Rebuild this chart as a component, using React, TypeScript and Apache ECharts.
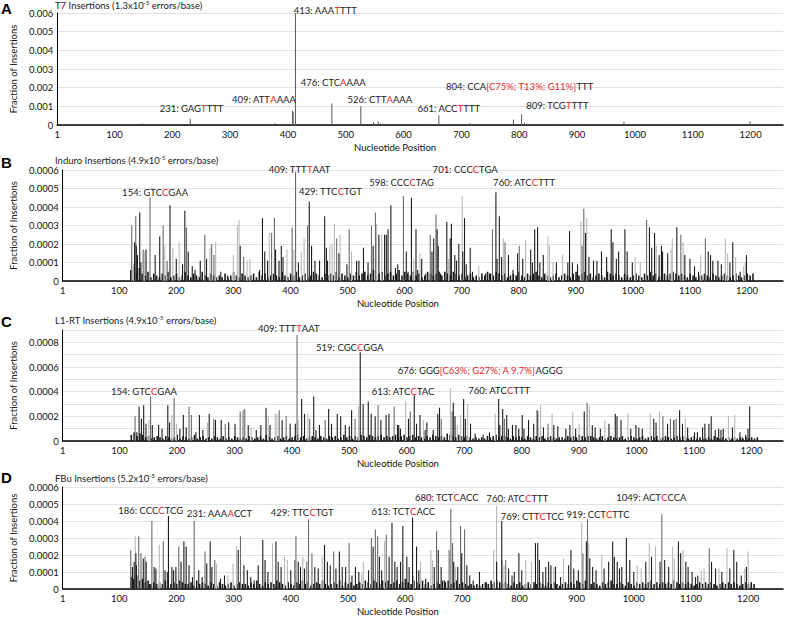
import { useEffect, useRef } from "react";
import * as echarts from "echarts";

// values below are in units of 1e-5 (fraction of insertions)
const UNIT = 1e-5;
const xTicks = [1, 100, 200, 300, 400, 500, 600, 700, 800, 900, 1000, 1100, 1200];
const baseStart = 120;
const baseStep = 5;

// A: T7
const t7Spikes = [[148,8],[162,3],[231,34],[360,3],[377,10],[392,4],[408,75],[409,70],[413,600],[476,115],[526,100],[548,15],[556,20],[560,10],[640,4],[650,4],[661,52],[668,5],[710,5],[715,10],[790,30],[804,58],[809,12],[858,4],[898,5],[981,18],[1060,3],[1140,3],[1199,20]];

// B: Induro
const induroDark = [[127,21],[130,19],[132,14],[136,37],[138,10],[147,17],[163,14],[171,24],[189,41],[200,12],[211,9],[215,38],[221,16],[228,8],[233,6],[242,11],[253,12],[278,5],[290,3],[312,19],[346,6],[351,34],[355,16],[360,11],[374,17],[380,11],[384,19],[387,13],[414,10],[433,43],[437,19],[443,11],[451,11],[460,35],[463,18],[465,11],[485,15],[499,9],[516,11],[520,11],[528,18],[536,10],[545,19],[555,25],[565,25],[568,25],[571,28],[576,41],[584,7],[588,9],[603,16],[606,5],[612,45],[620,28],[623,6],[630,12],[637,4],[648,16],[651,23],[657,28],[659,19],[663,4],[674,32],[680,23],[682,31],[688,14],[691,11],[695,20],[702,16],[705,34],[708,9],[715,18],[719,5],[742,4],[749,4],[760,48],[762,12],[766,35],[770,13],[782,14],[790,6],[798,15],[807,12],[821,17],[824,10],[828,28],[833,29],[837,10],[843,14],[866,10],[886,10],[889,27],[894,10],[903,9],[917,26],[923,13],[931,11],[937,11],[945,16],[954,13],[962,28],[965,21],[971,12],[975,16],[986,28],[990,16],[999,10],[1029,29],[1033,18],[1038,26],[1046,14],[1050,19],[1052,16],[1061,15],[1077,29],[1091,14],[1100,12],[1108,8],[1115,5],[1132,16],[1136,14],[1140,11],[1149,11],[1155,9],[1170,10],[1175,21],[1188,5],[1199,14]];
const induroGray = [[122,30],[129,35],[142,17],[154,45],[177,30],[184,11],[218,29],[250,25],[262,20],[266,14],[318,13],[367,26],[372,34],[403,29],[409,59],[430,30],[481,23],[503,28],[542,30],[549,37],[598,46],[645,25],[655,36],[754,28],[776,21],[801,19],[911,19],[914,39],[1024,33],[1084,25],[1127,23]];
const induroLight = [[125,9],[144,16],[180,19],[194,18],[205,21],[259,18],[269,21],[300,14],[307,30],[310,33],[324,11],[329,12],[363,26],[394,17],[406,17],[419,16],[424,23],[469,19],[473,20],[477,31],[487,25],[507,16],[551,31],[560,25],[616,12],[627,15],[677,12],[701,46],[730,8],[773,23],[812,22],[851,24],[854,19],[860,10],[877,14],[909,32],[919,34],[1004,13],[1013,10],[1041,19],[1067,17],[1069,23],[1088,21],[1119,14],[1162,23],[1166,15],[1180,13],[1194,8],[1197,10]];
const induroBase = [6,8,5,7,4,3,5,2,4,3, 2,4,3,5,2,3,4,2,3,5, 3,2,4,3,2,5,3,2,4,3, 2,3,2,4,2,3,5,3,2,4, 3,2,3,4,2,5,3,4,2,3, 4,3,2,5,3,2,4,3,5,2, 3,4,2,3,5,4,3,2,4,3, 4,3,5,2,4,3,2,4,3,5, 3,4,5,3,4,6,3,4,5,3, 4,5,3,4,6,3,5,4,3,5, 3,4,2,3,5,4,3,4,5,3, 5,4,3,5,4,3,4,2,3,4, 2,3,2,4,3,5,4,3,5,4, 3,4,2,3,4,3,5,3,2,4, 3,4,5,3,2,4,3,2,3,4, 2,3,4,3,2,4,5,3,4,5, 3,4,2,3,4,3,2,5,4,3, 4,3,2,4,3,2,3,4,3,2, 4,3,5,3,4,2,3,4,3,4, 5,4,3,4,3,2,4,3,2,3, 3,4,3,2,4,3,2,3,4,3, 2,3,4,3,2,3,4,3,4];

// C: L1-RT
const l1Dark = [[130,7],[134,28],[138,18],[142,29],[146,14],[157,13],[168,13],[174,10],[184,29],[187,15],[205,10],[211,21],[216,11],[233,7],[239,21],[245,9],[256,22],[267,17],[277,17],[290,15],[301,14],[324,13],[338,9],[346,13],[355,27],[362,13],[383,17],[397,14],[406,14],[417,34],[422,22],[438,36],[442,9],[448,13],[464,26],[469,14],[479,22],[485,20],[493,13],[500,12],[504,25],[519,72],[524,30],[533,32],[538,22],[545,20],[555,17],[564,21],[569,22],[584,13],[586,13],[589,10],[603,18],[613,37],[617,14],[623,21],[632,9],[635,15],[646,9],[654,22],[657,27],[681,31],[684,20],[699,34],[702,18],[711,14],[719,6],[733,5],[744,7],[760,34],[762,13],[767,26],[774,21],[777,10],[784,13],[790,13],[795,10],[801,21],[804,10],[812,17],[821,14],[827,25],[838,11],[856,13],[863,12],[877,10],[884,13],[894,10],[909,24],[923,13],[928,11],[937,10],[952,14],[963,22],[966,20],[973,17],[990,10],[999,13],[1004,11],[1010,10],[1030,18],[1034,15],[1054,14],[1065,17],[1075,25],[1080,14],[1089,11],[1101,7],[1106,7],[1115,11],[1119,14],[1126,14],[1130,20],[1137,9],[1143,10],[1147,9],[1151,10],[1167,11],[1180,7],[1184,3],[1190,5],[1194,10],[1197,28]];
const l1Gray = [[127,20],[154,36],[195,35],[221,28],[225,21],[264,18],[284,14],[310,24],[315,25],[318,26],[378,25],[390,20],[409,86],[431,18],[458,17],[510,18],[550,29],[578,28],[606,24],[660,18],[679,24],[770,18],[846,14],[914,31],[1046,20],[1059,18],[1069,18]];
const l1Light = [[151,17],[191,21],[199,14],[253,15],[329,11],[359,20],[371,22],[374,22],[411,17],[428,22],[516,28],[598,32],[629,17],[676,43],[688,13],[694,21],[706,30],[754,22],[829,24],[833,29],[853,22],[889,24],[900,14],[918,28],[945,17],[985,22],[1024,22],[1040,24],[1085,19],[1160,20],[1171,21]];
const l1Base = [5,7,4,6,5,3,4,2,3,4, 3,2,4,3,2,3,5,2,4,3, 2,3,5,2,3,4,2,3,2,4, 3,2,4,2,3,2,4,3,2,3, 2,4,3,2,3,4,2,5,3,2, 3,4,2,3,4,2,3,4,5,3, 4,2,3,4,3,2,4,3,2,4, 3,4,2,3,5,3,4,2,4,3, 5,4,3,5,4,3,4,5,3,4, 3,4,5,3,4,5,3,4,5,3, 4,3,2,4,3,5,4,3,4,3, 6,5,4,3,5,4,3,4,3,2, 3,2,3,2,4,3,4,5,3,4, 4,3,2,4,3,4,3,2,4,3, 2,4,3,4,2,3,4,3,2,3, 3,2,4,3,4,3,5,4,3,4, 4,3,2,3,4,2,3,4,3,2, 3,4,2,3,4,3,2,3,4,2, 3,4,3,4,2,3,4,3,2,3, 4,3,4,3,2,3,4,2,3,2, 2,3,2,4,3,2,3,2,3,2, 3,2,3,2,3,2,3,2,3];

// D: FBu
const fbuDark = [[123,13],[126,16],[129,21],[130,14],[142,18],[147,16],[153,3],[161,13],[164,12],[180,11],[184,10],[186,43],[192,13],[195,11],[199,13],[208,16],[213,28],[217,25],[222,14],[228,7],[239,11],[245,7],[253,15],[259,28],[262,13],[277,6],[284,8],[308,23],[318,14],[324,11],[330,7],[336,5],[343,14],[351,29],[355,17],[360,10],[374,28],[378,16],[383,13],[400,11],[413,16],[417,13],[424,12],[442,13],[448,12],[459,26],[464,16],[469,14],[479,12],[485,22],[490,13],[496,13],[507,8],[513,13],[519,10],[536,11],[544,25],[555,19],[559,11],[572,19],[577,39],[582,16],[586,13],[592,16],[596,37],[603,19],[607,13],[613,42],[620,25],[624,11],[636,6],[651,13],[658,23],[663,13],[669,5],[685,16],[692,13],[699,21],[708,14],[713,8],[719,5],[730,10],[742,4],[752,3],[760,16],[769,40],[781,12],[787,8],[791,10],[799,21],[804,11],[828,27],[832,27],[835,17],[841,10],[846,13],[851,16],[855,14],[863,13],[872,7],[886,14],[890,23],[895,12],[903,11],[917,28],[923,18],[928,13],[934,11],[948,12],[956,16],[963,28],[966,19],[971,16],[975,12],[979,13],[987,30],[993,17],[1000,10],[1021,16],[1031,19],[1046,16],[1054,17],[1061,13],[1078,28],[1082,21],[1091,16],[1095,13],[1102,10],[1108,7],[1112,8],[1136,16],[1143,12],[1154,10],[1168,12],[1175,23],[1180,16],[1188,8],[1197,13]];
const fbuGray = [[120,23],[134,31],[138,21],[145,19],[157,40],[177,28],[204,25],[231,40],[250,22],[267,17],[312,31],[407,17],[409,31],[428,16],[431,41],[437,21],[475,22],[502,27],[541,30],[548,35],[552,31],[567,32],[655,34],[677,23],[680,47],[683,27],[697,37],[704,35],[776,17],[911,21],[919,41],[1049,44],[1132,24]];
const fbuLight = [[128,31],[170,26],[270,15],[290,8],[299,15],[305,25],[368,27],[389,19],[394,17],[421,19],[455,19],[524,9],[527,16],[564,28],[615,8],[627,16],[645,23],[648,17],[688,13],[755,23],[760,49],[770,17],[773,14],[811,17],[821,16],[860,13],[877,18],[909,39],[921,27],[944,20],[1006,14],[1013,12],[1027,27],[1038,25],[1068,25],[1071,18],[1086,23],[1118,11],[1123,12],[1149,12],[1163,24],[1194,12],[1200,22]];
const fbuBase = [7,6,8,5,6,4,5,3,4,3, 4,3,5,2,3,4,3,5,4,3, 3,4,2,5,3,4,3,2,4,3, 2,4,3,2,3,4,2,3,4,3, 3,2,4,3,5,3,2,4,3,4, 3,5,4,3,2,4,3,2,4,3, 5,3,4,2,3,4,3,5,3,2, 3,4,3,5,2,4,3,4,2,3, 4,3,5,4,3,5,4,3,5,4, 5,3,4,5,3,4,6,4,3,5, 4,3,5,3,4,2,3,4,3,5, 4,5,3,4,5,3,4,3,2,3, 2,3,2,3,4,3,5,4,5,4, 3,4,3,2,4,3,4,2,3,4, 3,4,3,4,3,2,4,3,4,3, 2,3,4,3,4,3,5,4,3,5, 4,3,4,3,2,4,3,4,5,3, 3,4,3,2,4,3,2,4,3,4, 3,4,5,3,4,3,4,3,4,3, 5,4,3,4,3,4,3,2,3,4, 3,4,3,4,3,2,3,4,3,4, 3,4,3,2,3,4,3,4,3];

// annotations: [x, y (1e-5), before, highlighted, after]
const t7Notes = [[179,86,"231: GAG","T","TTT"],[304,134,"409: ATT","A","AAA"],[411,612,"413: AAA","T","TTT"],[423,230,"476: CTC","A","AAA"],[504,139,"526: CTT","A","AAA"],[625,91,"661: ACC","T","TTT"],[674,204,"804: CCA","[C75%; T13%; G11%]","TTT"],[813,107,"809: TCG","T","TTT"]];
const induroNotes = [[106,48,"154: GTC","C","GAA"],[363,60.5,"409: TTT","T","AAT"],[416,48.6,"429: TTC","C","TGT"],[539,53.5,"598: CCC","C","TAG"],[650,60.5,"701: CCC","C","TGA"],[756,53.5,"760: ATC","C","TTT"]];
const l1Notes = [[86,40.5,"154: GTC","C","GAA"],[342,91.6,"409: TTT","T","AAT"],[443,76,"519: CGC","C","GGA"],[540,40.5,"613: ATC","C","TAC"],[585,57,"676: GGG","[C63%; G27%; A 9.7%]","AGGG"],[708,41,"760: ATC","C","TTT"]];
const fbuNotes = [[99,46.3,"186: CCC","C","TCG"],[219,44.6,"231: AAA","A","CCT"],[366,45.1,"429: TTC","C","TGT"],[542,45.7,"613: TCT","C","ACC"],[618,53.7,"680: TCT","C","ACC"],[743,53.1,"760: ATC","C","TTT"],[768,42.9,"769: CTT","C","TCC"],[883,44,"919: CCT","C","TTC"],[970,53.7,"1049: ACT","C","CCA"]];

const titles = [
  ["T7 Insertions (1.3x10", "-5", " errors/base)"],
  ["Induro Insertions (4.9x10", "-5", " errors/base)"],
  ["L1-RT Insertions (4.9x10", "-5", " errors/base)"],
  ["FBu Insertions (5.2x10", "-5", " errors/base)"],
];
const letters = ["A", "B", "C", "D"];

const FONT = 'Lato, "Open Sans", sans-serif';
const DARK = "#1c1c1c";
const GRAY = "#6a6a6a";
const LIGHT = "#b8b8b8";
const RED = "#e3262c";

const panels = [
  { left: 43, top: 13, height: 112, xMax: 1256, yMax: 0.006, step: 0.001, digits: 3, every: 1, letterY: 9, titleY: 5, nameGap: 32,
    sets: [[t7Spikes, "#5a5a5a", 1]], base: null, notes: t7Notes },
  { left: 46, top: 170, height: 111, xMax: 1263, yMax: 0.0006, step: 0.0001, digits: 4, every: 1, letterY: 163, titleY: 160, nameGap: 35,
    sets: [[induroLight, LIGHT, 1.1], [induroGray, GRAY, 1.1], [induroDark, DARK, 1.1]], base: induroBase, notes: induroNotes },
  { left: 49.5, top: 330, height: 111, xMax: 1255, yMax: 0.0009, step: 0.0001, digits: 4, every: 2, letterY: 322, titleY: 320, nameGap: 36,
    sets: [[l1Light, LIGHT, 1.1], [l1Gray, GRAY, 1.1], [l1Dark, DARK, 1.1]], base: l1Base, notes: l1Notes },
  { left: 46, top: 487, height: 105, xMax: 1261, yMax: 0.0006, step: 0.0001, digits: 4, every: 1, letterY: 478, titleY: 478, nameGap: 37,
    sets: [[fbuLight, LIGHT, 1.1], [fbuGray, GRAY, 1.1], [fbuDark, DARK, 1.1]], base: fbuBase, notes: fbuNotes },
];

function buildOption(): echarts.EChartsOption {
  const grid: any[] = [];
  const xAxis: any[] = [];
  const yAxis: any[] = [];
  const series: any[] = [];
  const graphic: any[] = [];

  panels.forEach((p, i) => {
    grid.push({ left: p.left, right: 2, top: p.top, height: p.height });
    xAxis.push({
      gridIndex: i, type: "value", min: 1, max: p.xMax,
      axisLine: { onZero: false, lineStyle: { color: "#000", width: 1.5 } },
      axisTick: { show: false },
      splitLine: { show: false },
      axisLabel: {
        customValues: xTicks, color: "#111", fontSize: 9.5, fontFamily: FONT, margin: 4,
        formatter: (v: number) => String(v),
      },
      name: "Nucleotide Position", nameLocation: "middle", nameGap: 17,
      nameTextStyle: { color: "#111", fontSize: 9.5, fontFamily: FONT, padding: [0, 50, 0, 0] },
    });
    yAxis.push({
      gridIndex: i, type: "value", min: 0, max: p.yMax, interval: p.step,
      axisLine: { show: true, lineStyle: { color: "#000", width: 1 } },
      axisTick: { show: false },
      splitLine: { lineStyle: { color: "#e2e2e2", width: 1 } },
      axisLabel: {
        color: "#111", fontSize: 9.5, fontFamily: FONT, margin: 4,
        formatter: (v: number) => {
          if (Math.round(v / p.step) % p.every !== 0) return "";
          return v === 0 ? "0" : v.toFixed(p.digits);
        },
      },
      name: "Fraction of Insertions", nameLocation: "middle", nameGap: p.nameGap, nameRotate: 90,
      nameTextStyle: { color: "#111", fontSize: 9.5, fontFamily: FONT },
    });

    if (p.base) {
      series.push({
        type: "bar", xAxisIndex: i, yAxisIndex: i, barWidth: 1.6, barGap: "-100%",
        itemStyle: { color: DARK }, silent: true,
        data: p.base.map((v, k) => [baseStart + k * baseStep, v * UNIT]),
      });
    }
    const pxPerUnit = p.height / (p.yMax / UNIT);
    const topUnits = (p.yMax / UNIT) * 0.995;
    p.sets.forEach(([data, color, w], k) => {
      const s: any = {
        type: "bar", xAxisIndex: i, yAxisIndex: i, barWidth: w, barGap: "-100%",
        itemStyle: { color }, silent: true,
        data: (data as number[][]).map(([x, v]) => [x, v * UNIT]),
      };
      if (k === p.sets.length - 1) {
        s.markPoint = {
          symbol: "rect", symbolSize: 1, silent: true,
          itemStyle: { color: "rgba(0,0,0,0)" },
          label: {
            show: true, position: [0, "50%"], align: "left", verticalAlign: "middle",
            rich: {
              k: { color: "#222", fontSize: 9.5, fontFamily: FONT },
              r: { color: RED, fontSize: 9.5, fontFamily: FONT },
            },
          },
          data: p.notes.map((n) => {
            const y = n[1] as number;
            const yy = Math.min(y, topUnits);
            return {
              coord: [n[0], yy * UNIT],
              label: {
                formatter: `{k|${n[2]}}{r|${n[3]}}{k|${n[4]}}`,
                offset: [0, -(y - yy) * pxPerUnit],
              },
            };
          }),
        };
      }
      series.push(s);
    });

    graphic.push({
      type: "text", left: 1, top: p.letterY - 8,
      style: { text: letters[i], font: `bold 15px Arial, "Liberation Sans", sans-serif`, fill: "#000" },
    });
    const t = titles[i];
    graphic.push({
      type: "text", left: 55, top: p.titleY - 6,
      style: {
        text: `{t|${t[0]}}{s|${t[1]}}{t|${t[2]}}`,
        rich: {
          t: { fontSize: 9.5, fontFamily: FONT, fill: "#222", lineHeight: 12 },
          s: { fontSize: 6, fontFamily: FONT, fill: "#222", lineHeight: 12, verticalAlign: "top" },
        },
      },
    });
  });

  return { animation: false, backgroundColor: "#fff", grid, xAxis, yAxis, series, graphic };
}

export default function App() {
  const ref = useRef<HTMLDivElement>(null);
  useEffect(() => {
    if (!ref.current) return;
    const chart = echarts.init(ref.current, null, { renderer: "svg" });
    chart.setOption(buildOption());
    return () => chart.dispose();
  }, []);
  return (
    <div
      ref={ref}
      style={{ position: "absolute", left: 0, top: 0, width: 785, height: 617, background: "#fff" }}
    />
  );
}
